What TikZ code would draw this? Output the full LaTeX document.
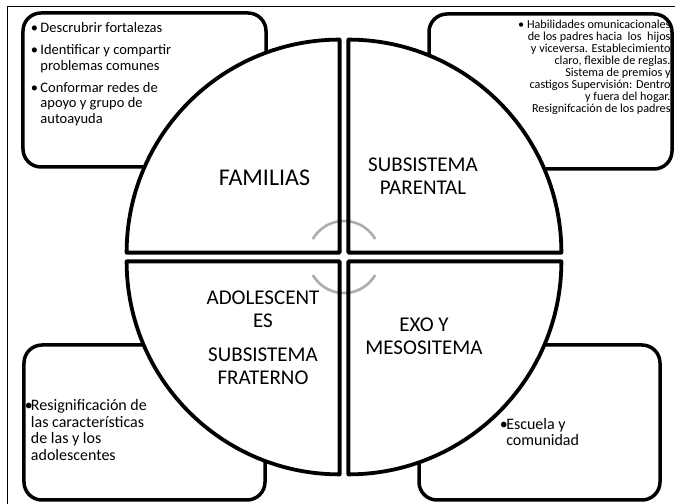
\documentclass[tikz,border=0pt]{standalone}
\usepackage{fontspec}
\setmainfont{Carlito}
\usetikzlibrary{positioning,calc}

\tikzset{
  frameline/.style={line width=1bp},
  box/.style={draw,line width=3.5bp,rounded corners=18bp,fill=white,inner sep=0pt},
  quarter/.style={line width=3.8bp,line join=round},
  ring/.style={draw=gray!65,line width=2.6bp},
  bigtext/.style={font=\fontsize{21bp}{23bp}\selectfont,align=center,inner sep=0pt},
  listtext/.style={align=left,inner sep=0pt},
}
\newcommand{\bul}[1]{\makebox[#1][l]{\textbullet}}

\begin{document}
\begin{tikzpicture}[x=1bp,y=1bp]
\useasboundingbox (0,0) rectangle (675,504);
\draw[frameline] (7,0) -- (7,497) -- (675,497);

% the four boxes
\node[box,minimum width=243bp,minimum height=154bp] (famBox) at (144.5,414)  {};
\node[box,minimum width=243bp,minimum height=155bp] (parBox) at (550.5,412.5){};
\node[box,minimum width=241bp,minimum height=155bp] (fraBox) at (144.5,81.5) {};
\node[box,minimum width=241bp,minimum height=155bp] (exoBox) at (539.5,81.5) {};

% the circle in four quarters
\coordinate (c) at (344,247);
\foreach \a in {45,135,225,315}
  \fill[white] ($(c)+(\a:6.2)$) -- ++(\a-45:213) arc[start angle=\a-45,delta angle=90,radius=213] -- cycle;
\draw[ring] ($(c)+(30:36)$)  arc[start angle=30,end angle=150,radius=36];
\draw[ring] ($(c)+(210:36)$) arc[start angle=210,end angle=330,radius=36];
\foreach \a in {45,135,225,315}
  \draw[quarter] ($(c)+(\a:6.2)$) -- ++(\a-45:213) arc[start angle=\a-45,delta angle=90,radius=213] -- cycle;

% quarter titles
\node[bigtext,font=\fontsize{24bp}{26bp}\selectfont] (fam) at (264.5,326.5) {FAMILIAS};
\node[bigtext] (par) at (423,327.5) {SUBSISTEMA\\PARENTAL};
\node[bigtext] (fra) at (263,166.5) {ADOLESCENT\\ES\\[11bp]SUBSISTEMA\\FRATERNO};
\node[bigtext] (exo) at (424,167.5) {EXO Y\\MESOSITEMA};

% box texts
\node[listtext,font=\fontsize{14.5bp}{15.5bp}\selectfont,below right=11bp and 9.5bp of famBox.north west] (famTxt)
  {\bul{9.5bp}Descrubrir fortalezas\\[6.5bp]
   \bul{9.5bp}Identificar y compartir\\
   \hspace*{9.5bp}problemas comunes\\[6.5bp]
   \bul{9.5bp}Conformar redes de\\
   \hspace*{9.5bp}apoyo y grupo de\\
   \hspace*{9.5bp}autoayuda};
\node[listtext,align=right,font=\fontsize{12.2bp}{12bp}\selectfont,below left=8bp and 3bp of parBox.north east] (parTxt)
  {\textbullet\ Habilidades omunicacionales\\
   de los padres hacia\ \ los\ \ hijos\\
   y viceversa. Establecimiento\\
   claro, flexible de reglas.\\
   Sistema de premios y\\
   castigos Supervisión: Dentro\\
   y fuera del hogar.\\
   Resignifcación de los padres};
\node[listtext,font=\fontsize{16bp}{16.7bp}\selectfont,below right=56bp and 2.5bp of fraBox.north west] (fraTxt)
  {\bul{6bp}Resignificación de\\
   \hspace*{6bp}las características\\
   \hspace*{6bp}de las y los\\
   \hspace*{6bp}adolescentes};
\node[listtext,font=\fontsize{16bp}{16.5bp}\selectfont,below right=74.5bp and 82.5bp of exoBox.north west] (exoTxt)
  {\bul{6.3bp}Escuela y\\
   \hspace*{6.3bp}comunidad};
\end{tikzpicture}
\end{document}
